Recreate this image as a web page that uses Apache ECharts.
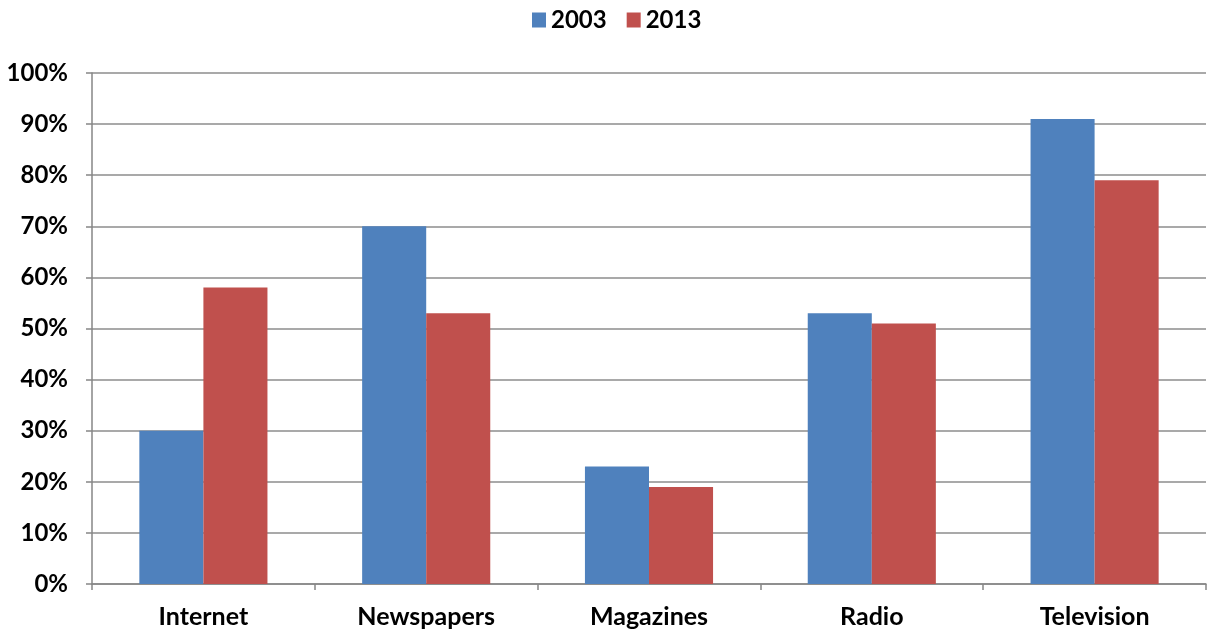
<!DOCTYPE html>
<html>
<head>
<meta charset="utf-8">
<script src="https://cdn.jsdelivr.net/npm/echarts@6/dist/echarts.min.js"></script>
<style>html,body{margin:0;padding:0;background:#fff}#c{width:1211px;height:632px}</style>
</head>
<body>
<div id="c"></div>
<script>
const categories = ['Internet', 'Newspapers', 'Magazines', 'Radio', 'Television'];
const seriesNames = ['2003', '2013'];
const values2003 = [30, 70, 23, 53, 91];
const values2013 = [58, 53, 19, 51, 79];
const colors = ['#4F81BD', '#C0504D'];
const font = 'Lato, "Open Sans", sans-serif';

const chart = echarts.init(document.getElementById('c'), null, {renderer: 'canvas'});
chart.setOption({
  animation: false,
  backgroundColor: '#fff',
  color: colors,
  legend: {
    top: 3,
    left: 527,
    itemWidth: 14,
    itemHeight: 15,
    itemGap: 20,
    icon: 'rect',
    textStyle: {fontFamily: font, fontWeight: 'bold', fontSize: 24, color: '#000'},
    data: seriesNames
  },
  grid: {left: 92, right: 5, top: 73, bottom: 48, containLabel: false},
  xAxis: {
    type: 'category',
    data: categories,
    axisLine: {lineStyle: {color: '#868686', width: 1.5}},
    axisTick: {show: true, alignWithLabel: false, length: 6, lineStyle: {color: '#868686', width: 1.5}},
    axisLabel: {fontFamily: font, fontWeight: 'bold', fontSize: 25, color: '#000', margin: 20}
  },
  yAxis: {
    type: 'value',
    min: 0, max: 100, interval: 10,
    axisLine: {show: true, lineStyle: {color: '#868686', width: 1.5}},
    axisTick: {show: true, length: 6, lineStyle: {color: '#868686', width: 1.5}},
    splitLine: {lineStyle: {color: '#8c8c8c', width: 1.5}},
    axisLabel: {fontFamily: font, fontWeight: 'bold', fontSize: 24, color: '#000', margin: 24, formatter: v => v + '%'}
  },
  series: [
    {name: seriesNames[0], type: 'bar', data: values2003, barGap: '0%', barCategoryGap: '42.5%', itemStyle: {color: colors[0]}},
    {name: seriesNames[1], type: 'bar', data: values2013, barGap: '0%', barCategoryGap: '42.5%', itemStyle: {color: colors[1]}}
  ]
});
</script>
</body>
</html>
